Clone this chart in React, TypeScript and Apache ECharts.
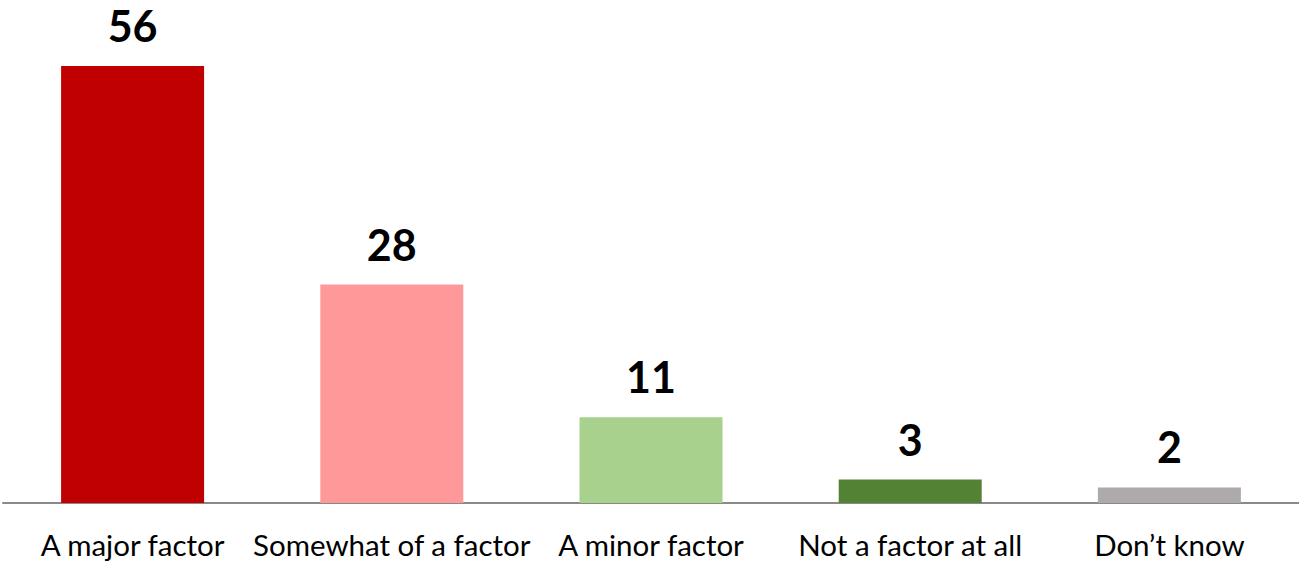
import React, { useEffect, useRef } from "react";
import * as echarts from "echarts";

const categories = ["A major factor", "Somewhat of a factor", "A minor factor", "Not a factor at all", "Don\u2019t know"];
const values = [56, 28, 11, 3, 2];
const colors = ["#C00000", "#FF9999", "#A9D18E", "#548235", "#AEAAAA"];

export default function App() {
  const ref = useRef<HTMLDivElement>(null);
  useEffect(() => {
    if (!ref.current) return;
    const chart = echarts.init(ref.current, null, { renderer: "svg" });
    chart.setOption({
      animation: false,
      backgroundColor: "#ffffff",
      grid: { left: 3, right: 0, top: 66, bottom: 59, containLabel: false },
      xAxis: {
        type: "category",
        data: categories,
        axisLine: { show: true, lineStyle: { color: "#898989", width: 2 } },
        axisTick: { show: false },
        axisLabel: {
          color: "#000000",
          fontFamily: "Lato",
          fontSize: 29.5,
          margin: 26,
          interval: 0,
        },
      },
      yAxis: {
        type: "value",
        min: 0,
        max: 56,
        show: false,
        splitLine: { show: false },
      },
      series: [
        {
          type: "bar",
          barWidth: 143,
          data: values.map((v, i) => ({ value: v, itemStyle: { color: colors[i] } })),
          label: {
            show: true,
            position: "top",
            distance: 19,
            color: "#000000",
            fontFamily: "Lato",
            fontWeight: "bold",
            fontSize: 43,
          },
        },
      ],
    });
    return () => chart.dispose();
  }, []);
  return (
    <div
      ref={ref}
      style={{ position: "fixed", left: 0, top: 0, width: 1299, height: 562 }}
    />
  );
}
